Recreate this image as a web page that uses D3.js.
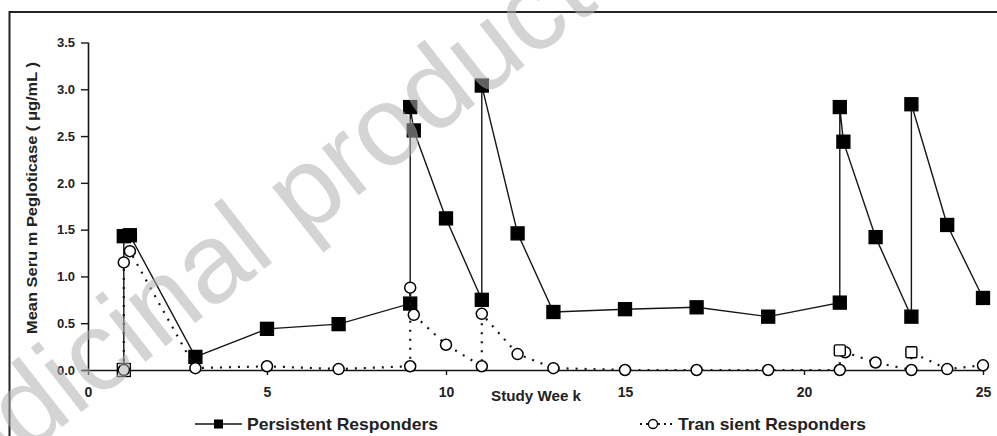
<!DOCTYPE html>
<html>
<head>
<meta charset="utf-8">
<script src="https://cdn.jsdelivr.net/npm/d3@7/dist/d3.min.js"></script>
<style>
  html, body { margin: 0; padding: 0; background: #fff; }
  svg { display: block; font-family: "Liberation Sans", Arial, sans-serif; }
</style>
</head>
<body>
<svg id="chart" width="997" height="436"></svg>
<script>
// Study weeks and mean serum pegloticase (µg/mL) for each responder group
const persistentWeeks  = [1, 1, 1.17, 3, 5, 7, 9, 9, 9.1, 10, 11, 11, 12, 13, 15, 17, 19, 21, 21, 21.1, 22, 23, 23, 24, 25];
const persistentValues = [0, 1.43, 1.44, 0.14, 0.44, 0.49, 0.71, 2.81, 2.56, 1.62, 0.75, 3.04, 1.46, 0.62, 0.65, 0.67, 0.57, 0.72, 2.81, 2.44, 1.42, 0.57, 2.84, 1.55, 0.77];

const transientWeeks  = [1, 1, 1.17, 3, 5, 7, 9, 9, 9.1, 10, 11, 11, 12, 13, 15, 17, 19, 21, 21, 21.15, 22, 23, 23, 24, 25];
const transientValues = [0, 1.15, 1.27, 0.02, 0.04, 0.01, 0.04, 0.88, 0.59, 0.27, 0.04, 0.6, 0.17, 0.02, 0, 0, 0, 0, 0.21, 0.19, 0.08, 0, 0.19, 0.01, 0.05];
const transientShapes = ["c","c","c","c","c","c","c","c","c","c","c","c","c","c","c","c","c","c","s","c","c","c","s","c","c"];

const xTicks = [0, 5, 10, 15, 20, 25];
const yTicks = [0, 0.5, 1.0, 1.5, 2.0, 2.5, 3.0, 3.5];

const seriesNames = ["Persistent Responders", "Tran sient Responders"];
const xTitle = "Study Wee k";
const yTitle = "Mean Seru m Pegloticase ( μg/mL )";
const watermark = "Medicinal product no longer authorised";

const svg = d3.select("#chart");
const ink = "#161616";

// outer frame
svg.append("rect")
  .attr("x", 9.5).attr("y", 12).attr("width", 1000).attr("height", 440)
  .attr("fill", "none").attr("stroke", "#222").attr("stroke-width", 2);

const x = d3.scaleLinear().domain([0, 25]).range([88, 983]);
const y = d3.scaleLinear().domain([0, 3.5]).range([370, 42.5]);

// axes
const gx = svg.append("g").attr("transform", "translate(0,370)")
  .call(d3.axisBottom(x).tickValues(xTicks).tickSize(5).tickPadding(12).tickFormat(d3.format("d")));
gx.select(".domain").attr("d", "M82,0.5H986").attr("stroke", ink).attr("stroke-width", 1.6);
gx.selectAll(".tick line").attr("stroke", ink).attr("stroke-width", 1.4);
gx.selectAll(".tick text").attr("font-size", 14).attr("font-weight", "bold").attr("fill", "#222")
  .attr("font-family", "Liberation Sans, Arial, sans-serif");

const gy = svg.append("g").attr("transform", "translate(88,0)")
  .call(d3.axisLeft(y).tickValues(yTicks).tickSize(7).tickPadding(6).tickFormat(d3.format(".1f")));
gy.select(".domain").attr("d", "M0.5,42.5V370").attr("stroke", ink).attr("stroke-width", 1.6);
gy.selectAll(".tick line").attr("stroke", ink).attr("stroke-width", 1.4);
gy.selectAll(".tick text").attr("font-size", 13).attr("font-weight", "bold").attr("fill", "#222")
  .attr("font-family", "Liberation Sans, Arial, sans-serif");

// axis titles
svg.append("text").attr("x", 536).attr("y", 401).attr("text-anchor", "middle")
  .attr("font-size", 15).attr("font-weight", "bold").attr("fill", "#222")
  .attr("textLength", 90).attr("lengthAdjust", "spacingAndGlyphs").text(xTitle);
svg.append("text").attr("transform", "translate(37,198) rotate(-90)").attr("text-anchor", "middle")
  .attr("font-size", 15).attr("font-weight", "bold").attr("fill", "#222")
  .attr("textLength", 272).attr("lengthAdjust", "spacingAndGlyphs").text(yTitle);

const persistent = persistentWeeks.map((w, i) => ({ w, v: persistentValues[i] }));
const transient = transientWeeks.map((w, i) => ({ w, v: transientValues[i], s: transientShapes[i] }));
const line = d3.line().x(d => x(d.w)).y(d => y(d.v));

// persistent responders: solid line, filled squares
svg.append("path").datum(persistent).attr("d", line)
  .attr("fill", "none").attr("stroke", ink).attr("stroke-width", 1.4);
svg.append("g").selectAll("rect").data(persistent).join("rect")
  .attr("x", d => x(d.w) - 6.5).attr("y", d => y(d.v) - 6.5)
  .attr("width", 13).attr("height", 13)
  .attr("fill", d => d.v === 0 ? "#fff" : "#000")
  .attr("stroke", "#000").attr("stroke-width", 1.3);

// transient responders: dotted line, open circles
svg.append("path").datum(transient).attr("d", line)
  .attr("fill", "none").attr("stroke", ink).attr("stroke-width", 2.2)
  .attr("stroke-dasharray", "2,7");
const tg = svg.append("g");
tg.selectAll("circle").data(transient.filter(d => d.s === "c")).join("circle")
  .attr("cx", d => x(d.w)).attr("cy", d => y(d.v)).attr("r", 5.5)
  .attr("fill", "#fff").attr("stroke", "#000").attr("stroke-width", 1.5);
tg.selectAll("rect").data(transient.filter(d => d.s === "s")).join("rect")
  .attr("x", d => x(d.w) - 5.5).attr("y", d => y(d.v) - 5.5)
  .attr("width", 11).attr("height", 11).attr("rx", 1.5)
  .attr("fill", "#fff").attr("stroke", "#000").attr("stroke-width", 1.4);

// legend
const ly = 424;
svg.append("line").attr("x1", 195).attr("x2", 242).attr("y1", ly).attr("y2", ly)
  .attr("stroke", ink).attr("stroke-width", 1.6);
svg.append("rect").attr("x", 214).attr("y", ly - 4.5).attr("width", 9).attr("height", 9).attr("fill", "#000");
svg.append("text").attr("x", 247).attr("y", ly + 6).attr("font-size", 17).attr("font-weight", "bold")
  .attr("fill", "#222").attr("textLength", 191).attr("lengthAdjust", "spacingAndGlyphs").text(seriesNames[0]);

svg.append("line").attr("x1", 640).attr("x2", 673).attr("y1", ly).attr("y2", ly)
  .attr("stroke", ink).attr("stroke-width", 1.8).attr("stroke-dasharray", "2,4");
svg.append("circle").attr("cx", 653).attr("cy", ly).attr("r", 4.5)
  .attr("fill", "#fff").attr("stroke", "#000").attr("stroke-width", 1.3);
svg.append("text").attr("x", 678).attr("y", ly + 6).attr("font-size", 17).attr("font-weight", "bold")
  .attr("fill", "#222").attr("textLength", 188).attr("lengthAdjust", "spacingAndGlyphs").text(seriesNames[1]);

// overlaid watermark
svg.append("text").attr("transform", "translate(-98,552) rotate(-38)")
  .attr("font-size", 113).attr("fill", "#b0b0b0").attr("fill-opacity", 0.55)
  .text(watermark);
</script>
</body>
</html>
